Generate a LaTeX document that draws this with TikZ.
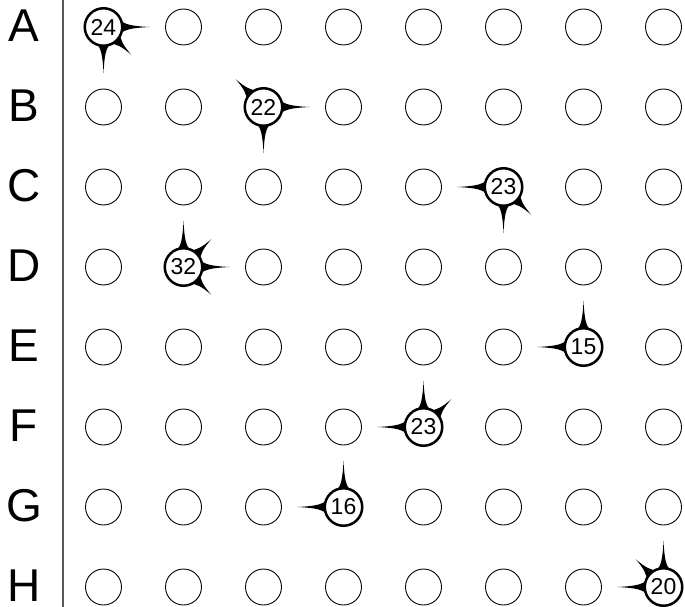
\documentclass[tikz,border=0pt]{standalone}
\usepackage{fontspec}
\setmainfont{Liberation Sans}
\usepackage{tikz}

% thorn-like spikes around a numbered well: #1 node, #2 list of angle/length
\newcommand\spikes[2]{%
  \foreach \a/\l in {#2}{%
    \begin{scope}[shift={(#1.center)}, rotate=\a]
      \fill (16,7.5) .. controls (21,2.6) and (27,1) .. (\l,0)
            .. controls (27,-1) and (21,-2.6) .. (16,-7.5) -- cycle;
    \end{scope}}}

\begin{document}
\begin{tikzpicture}[x=1pt, y=-1pt,
  well/.style={circle, draw, line width=0.9pt, minimum size=36pt, inner sep=0pt},
  hit/.style={well, line width=2.5pt, minimum size=37.5pt, fill=white,
              font=\fontsize{23}{23}\selectfont},
  rowlbl/.style={font=\fontsize{46}{46}\selectfont, inner sep=0pt}]
  \useasboundingbox (0,0) rectangle (685,607);
  \draw[line width=2pt, black!65] (63,0) -- (63,607);
  \foreach \r [count=\i from 0] in {A,B,C,D,E,F,G,H} {
    \node[rowlbl] (lbl-\r) at (24,26+80*\i) {\r};
    \foreach \c in {1,...,8}
      \node[well] (\r\c) at (23.5+80*\c,27+80*\i) {};
  }
  % spikes
  \spikes{A1}{0/46, -90/46, -45/39}
  \spikes{B3}{0/46, -90/46, 135/39}
  \spikes{C6}{180/46, -90/46, -45/39}
  \spikes{D2}{90/46, 45/39, 0/46, -45/39}
  \spikes{E7}{90/46, 180/46}
  \spikes{F5}{180/46, 90/46, 45/39}
  \spikes{G4}{90/46, 180/46}
  \spikes{H8}{90/46, 135/39, 180/46}
  % numbered wells
  \node[hit] (n-A) at (A1) {24};
  \node[hit] (n-B) at (B3) {22};
  \node[hit] (n-C) at (C6) {23};
  \node[hit] (n-D) at (D2) {32};
  \node[hit] (n-E) at (E7) {15};
  \node[hit] (n-F) at (F5) {23};
  \node[hit] (n-G) at (G4) {16};
  \node[hit] (n-H) at (H8) {20};
\end{tikzpicture}
\end{document}
